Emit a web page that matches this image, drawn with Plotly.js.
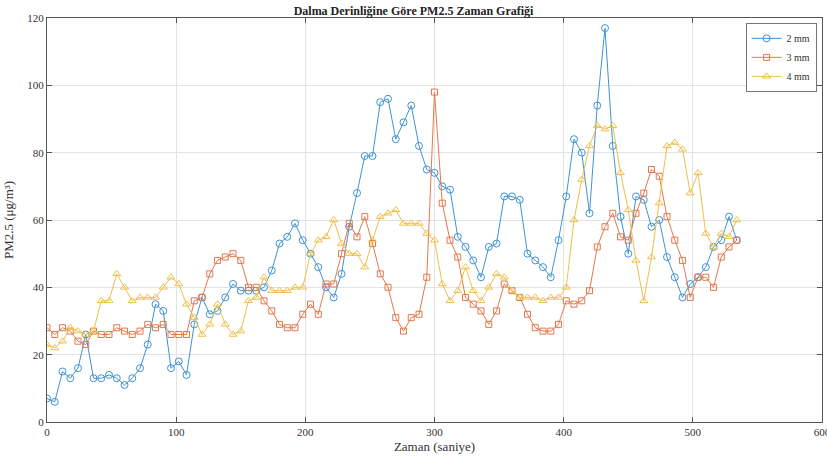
<!DOCTYPE html>
<html>
<head>
<meta charset="utf-8">
<script src="https://cdn.plot.ly/plotly-3.0.1.min.js"></script>
<style>html,body{margin:0;padding:0;background:#fff;}#chart{width:827px;height:461px;}</style>
</head>
<body>
<div id="chart"></div>
<script>
// time step 6 s, 90 samples
const timeStep = 6;
const sampleCount = 90;
const seriesNames = ["2 mm", "3 mm", "4 mm"];
const pm2mm = [7,6,15,13,16,26,13,13,14,13,11,13,16,23,35,33,16,18,14,29,37,32,33,37,41,39,39,39,40,45,53,55,59,54,50,46,40,37,44,58,68,79,79,95,96,84,89,94,82,75,74,70,69,55,52,48,43,52,53,67,67,66,50,48,46,43,54,67,84,80,62,94,117,82,61,50,67,66,58,60,49,43,37,41,43,46,52,54,61,54];
const pm3mm = [28,26,28,27,24,23,27,26,26,28,27,26,27,29,28,29,26,26,26,36,37,44,48,49,50,48,40,40,36,33,29,28,28,32,35,32,41,41,50,59,55,61,53,44,40,31,27,31,32,43,98,65,54,49,37,35,33,29,33,41,39,37,32,28,27,27,29,36,35,36,39,52,58,62,55,54,62,68,75,73,61,54,48,37,43,43,40,49,52,54];
const pm4mm = [23,22,24,28,27,26,27,36,36,44,40,36,37,37,37,40,43,41,35,31,26,29,35,29,26,27,36,37,43,39,39,39,40,40,50,54,55,60,53,50,50,46,54,61,62,63,59,59,59,56,54,41,36,39,46,39,36,40,44,43,39,37,37,37,36,37,37,40,60,72,82,88,87,88,74,63,48,36,49,65,82,83,81,68,74,56,52,56,55,60];
const xTicks = [0,100,200,300,400,500,600];
const yTicks = [0,20,40,60,80,100,120];

const times = [];
for (let i = 0; i < sampleCount; i++) times.push(i * timeStep);

const colors = ["#3f93d3", "#e4784c", "#efc04a"];
const symbols = ["circle-open", "square-open", "triangle-up-open"];
const sizes = [7, 6, 7];
const data = [pm2mm, pm3mm, pm4mm].map((ys, k) => ({
  x: times, y: ys, name: seriesNames[k], type: "scatter", mode: "lines+markers",
  line: {color: colors[k], width: 1},
  marker: {symbol: symbols[k], size: sizes[k], color: colors[k], line: {width: 1, color: colors[k]}}
}));

const serif = "Liberation Serif, Times New Roman, serif";
const axisCommon = {
  showline: true, mirror: "ticks", linecolor: "#555", linewidth: 1,
  ticks: "inside", ticklen: 5, tickcolor: "#555",
  showgrid: true, gridcolor: "#e3e3e3", gridwidth: 1, zeroline: false,
  tickfont: {family: serif, size: 11, color: "#333"}
};
const layout = {
  width: 827, height: 461,
  margin: {l: 47, r: 5, t: 18, b: 39},
  paper_bgcolor: "#fff", plot_bgcolor: "#fff",
  title: {text: "<b>Dalma Derinliğine Göre PM2.5 Zaman Grafiği</b>", font: {family: serif, size: 12, color: "#222"}, x: 0.5, xanchor: "center", y: 0.985, yanchor: "top"},
  xaxis: Object.assign({}, axisCommon, {range: [0, 600], tickvals: xTicks, ticktext: xTicks.map(String), ticklabeloverflow: "allow",
    title: {text: "Zaman (saniye)", font: {family: serif, size: 13, color: "#333"}, standoff: 4}}),
  yaxis: Object.assign({}, axisCommon, {range: [0, 120], tickvals: yTicks, ticktext: yTicks.map(String),
    title: {text: "PM2.5 (μg/m³)", font: {family: serif, size: 13, color: "#333"}, standoff: 10}}),
  showlegend: true,
  legend: {x: 0.993, xanchor: "right", y: 0.988, yanchor: "top", bgcolor: "#fff", bordercolor: "#777", borderwidth: 1,
    font: {family: serif, size: 10, color: "#333"}, itemwidth: 30, tracegroupgap: 0}
};
Plotly.newPlot("chart", data, layout, {displayModeBar: false, staticPlot: true});
</script>
</body>
</html>
